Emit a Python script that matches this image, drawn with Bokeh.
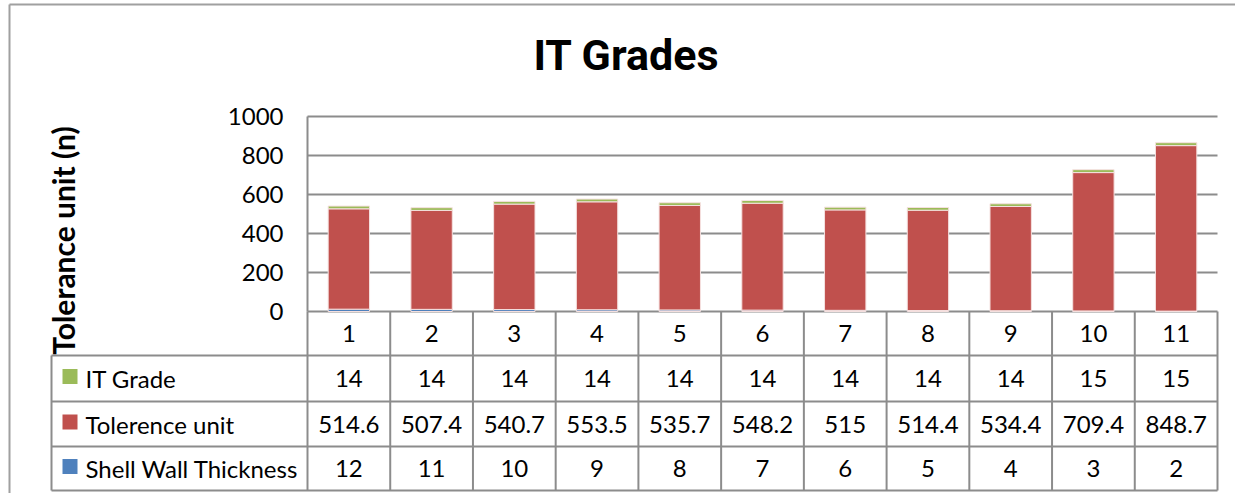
import math
from bokeh.plotting import figure
from bokeh.models import ColumnDataSource, LinearAxis, FixedTicker, Range1d
from bokeh.core.properties import value
from bokeh.embed import file_html
from bokeh.resources import INLINE

# ---------------- data ----------------
categories = [1, 2, 3, 4, 5, 6, 7, 8, 9, 10, 11]
it_grade = [14, 14, 14, 14, 14, 14, 14, 14, 14, 15, 15]
tolerence_unit = [514.6, 507.4, 540.7, 553.5, 535.7, 548.2, 515, 514.4, 534.4, 709.4, 848.7]
shell_wall_thickness = [12, 11, 10, 9, 8, 7, 6, 5, 4, 3, 2]
y_ticks = [0, 200, 400, 600, 800, 1000]
series_names = ["IT Grade", "Tolerence unit", "Shell Wall Thickness"]
series_colors = ["#9BBB59", "#C0504D", "#4F81BD"]
title_text = "IT Grades"
y_label = "Tolerance unit (n)"

# ---------------- layout (pixels in picture coords) ----------------
OFF = 0
W, H = 1235, 493
PLOT_L, PLOT_R, PLOT_T, PLOT_B = 307, 1217, 116, 311
TABLE_L = 51
ROW_EDGES = [311, 355, 401, 446, 490]
GRAY = "#8c8c8c"
FONT = value("Lato")

col_w = (PLOT_R - PLOT_L) / len(categories)
px_per_unit = (PLOT_B - PLOT_T) / max(y_ticks)


def X(px):
    return 0.5 + (px - PLOT_L) / col_w


def Y(py):
    return (PLOT_B - py) / px_per_unit


p = figure(width=W, height=H,
           x_range=Range1d(X(OFF), X(OFF + W)),
           y_range=Range1d(Y(OFF + H), Y(OFF)),
           x_axis_type=None, y_axis_type=None,
           min_border=0, toolbar_location=None, output_backend="svg",
           outline_line_color=None, background_fill_color="white",
           border_fill_color="white")

x_lo, x_hi = 0.5, len(categories) + 0.5

# gridlines
p.segment(x0=[x_lo] * len(y_ticks), x1=[x_hi] * len(y_ticks), y0=y_ticks, y1=y_ticks,
          line_color=GRAY, line_width=2)

# stacked bars
src = ColumnDataSource(dict(x=categories, shell=shell_wall_thickness,
                            tol=tolerence_unit, grade=it_grade))
p.vbar_stack(["shell", "tol", "grade"], x="x", width=0.5, source=src,
             fill_color=series_colors[::-1], line_color="#f5e0df", line_width=1)

# y axis
yaxis = LinearAxis(fixed_location=x_lo, ticker=FixedTicker(ticks=y_ticks), bounds=(0, max(y_ticks)),
                   axis_line_color=GRAY, axis_line_width=2,
                   major_tick_out=0, major_tick_in=0, minor_tick_out=0, minor_tick_in=0,
                   major_label_standoff=24, major_label_text_font="Lato",
                   major_label_text_font_size="24px", major_label_text_color="black")
p.add_layout(yaxis, "left")

# data table
row_y = [Y(r) for r in ROW_EDGES]
col_edges = [x_lo + k for k in range(len(categories) + 1)]
p.segment(x0=col_edges, x1=col_edges, y0=[row_y[0]] * len(col_edges), y1=[row_y[-1]] * len(col_edges),
          line_color=GRAY, line_width=2)
p.segment(x0=[X(TABLE_L)] * 4, x1=[x_hi] * 4, y0=row_y[1:], y1=row_y[1:],
          line_color=GRAY, line_width=2)
p.segment(x0=[X(TABLE_L)], x1=[X(TABLE_L)], y0=[row_y[1]], y1=[row_y[-1]],
          line_color=GRAY, line_width=2)

mid = [(row_y[i] + row_y[i + 1]) / 2 for i in range(4)]
p.text(x=categories, y=[mid[0]] * len(categories), text=[str(c) for c in categories],
       text_align="center", text_baseline="middle", text_font=FONT, text_font_size="24px",
       text_color="black")
rows = [it_grade, tolerence_unit, shell_wall_thickness]
for i, (vals, name, col) in enumerate(zip(rows, series_names, series_colors)):
    yy = mid[i + 1]
    p.text(x=categories, y=[yy] * len(categories), text=[f"{v:g}" for v in vals],
           text_align="center", text_baseline="middle", text_font=FONT, text_font_size="24px",
           text_color="black")
    p.scatter(x=[X(69.5)], y=[yy + 2 / px_per_unit], marker="square", size=15,
              fill_color=col, line_color=None)
    p.text(x=[X(85)], y=[yy], text=[name], text_align="left", text_baseline="middle",
           text_font=FONT, text_font_size="24px", text_color="black")

# title and y label
p.text(x=[X(626)], y=[Y(54)], text=[title_text], text_align="center", text_baseline="middle",
       text_font=value("Roboto"), text_font_style="bold",
       text_font_size="43px", text_color="black")
p.text(x=[X(62)], y=[Y(240)], text=[y_label], angle=math.pi / 2,
       text_align="center", text_baseline="middle",
       text_font=FONT, text_font_style="bold", text_font_size="30px", text_color="black")

# outer border (left & top)
p.segment(x0=[X(9), X(9)], x1=[X(9), X(OFF + W)], y0=[Y(4), Y(4)], y1=[Y(OFF + H), Y(4)],
          line_color="#a0a0a0", line_width=2)

open("out.html", "w").write(file_html(p, INLINE))
